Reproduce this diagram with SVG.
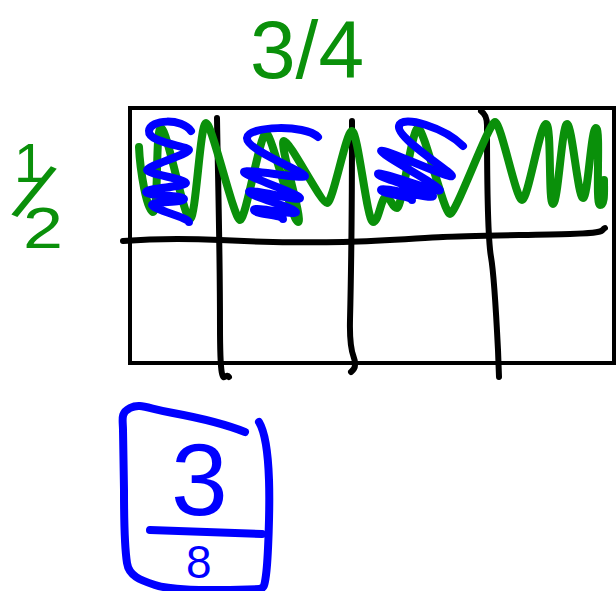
<svg xmlns="http://www.w3.org/2000/svg" width="616" height="591" viewBox="0 0 616 591">
<style>
.ink{fill:none;stroke-linecap:round;stroke-linejoin:round}
.k{stroke:#000;stroke-width:6}
.g{stroke:#0a900a;stroke-width:8}
.b{stroke:#0000ff;stroke-width:8}
.tg{fill:#0a900a;font-family:"Liberation Sans",Arial,sans-serif}
.tb{fill:#0000ff;font-family:"Liberation Sans",Arial,sans-serif}
</style>
<rect width="616" height="591" fill="#fff"/>
<g id="labels">
<text class="tg" x="250" y="78" font-size="82">3/4</text>
<text class="tg" x="14" y="182" font-size="56">1</text>
<text class="tg" x="34" y="221" font-size="82" text-anchor="middle" transform="rotate(24 34 192)">/</text>
<text class="tg" x="23" y="248" font-size="58" textLength="40" lengthAdjust="spacingAndGlyphs">2</text>
</g>
<g id="grid">
<rect x="130" y="108" width="484" height="255" fill="none" stroke="#000" stroke-width="4"/>
<path class="ink k" d="M123,241 C160,238 200,239 220,240 S300,243 343,242 S420,238 443,237 S530,235 570,234 S600,230 605,228"/>
<path class="ink k" d="M217,118 C218,180 220,250 220,325 S225,370 229,377"/>
<path class="ink k" d="M352,121 C352,200 351,280 350,320 S356,355 355,365 Q355,369 351,372"/>
<path class="ink k" d="M481,111 Q487,115 487,125 C487,180 488,240 491,257 S497,330 498,350 L499,377"/>
</g>
<g id="shading">
<path class="ink g" d="M139,147 C140,170 147,212 153,212 S155,128 161,128 S184,219 190,219 S200,123 206,123 S234,220 240,220 S260,133 266,133 S292,222 298,222 S278,141 284,141 S321,203 327,203 S346,131 352,131 S367,222 373,222 S381,197 386,197 S392,208 397,208 S412,128 418,128 S444,214 450,214 S489,122 495,122 S516,200 522,200 S540,124 546,124 S548,204 553,204 S562,124 567,124 S578,198 583,198 S591,128 596,128 S595,205 600,205 S604,192 604,180"/>
<path class="ink b" d="M191,131 C182,118 150,119 149,131 S189,146 189,150 S147,166 147,170 S186,179 186,183 S146,188 146,192 S184,195 184,199 S152,201 152,205 S189,218 189,222"/>
<path class="ink b" d="M318,137 C305,124 248,126 247,138 S305,172 305,176 S244,168 244,172 S300,194 300,198 S249,188 249,192 S296,208 296,212 S254,206 254,210 S283,215 283,219"/>
<path class="ink b" d="M463,146 C445,128 402,114 399,126 S452,172 452,176 S381,147 381,151 S440,186 440,190 S378,170 378,174 S433,192 433,196 S381,186 381,190 S412,196 412,200"/>
</g>
<g id="answer">
<path class="ink b" d="M245,432 C225,424 200,418 173,413 S140,403 130,408 S123,420 123,430 L124,490 C124,520 125,550 127,563 S140,580 155,585 S200,590 230,590 L260,589"/>
<path class="ink b" d="M259,422 C265,432 268,450 269,480 S268,560 266,575 S263,587 260,589"/>
<path class="ink b" d="M150,530 L262,534"/>
<text class="tb" x="171" y="515" font-size="102">3</text>
<text class="tb" x="186" y="578" font-size="46">8</text>
</g>
</svg>
